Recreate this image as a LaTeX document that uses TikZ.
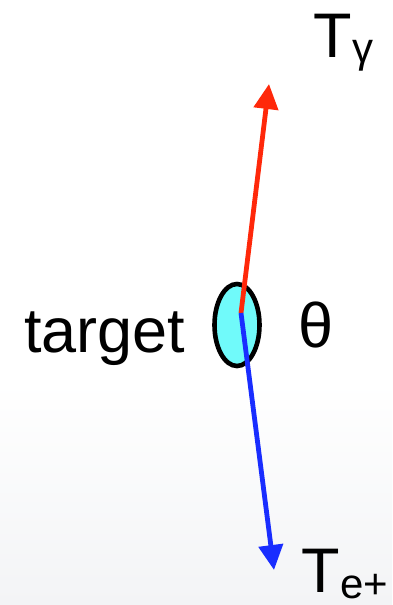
\documentclass[tikz,border=0pt]{standalone}
\usepackage{fontspec}
\setmainfont{Liberation Sans}
\usetikzlibrary{arrows.meta,shapes.geometric}
\definecolor{tcyan}{RGB}{112,250,250}
\definecolor{tred}{RGB}{255,40,10}
\definecolor{tblue}{RGB}{25,45,255}
\definecolor{bgbot}{RGB}{243,244,246}
\begin{document}
\begin{tikzpicture}[x=1pt,y=-1pt,
  lbl/.style={inner sep=0pt,anchor=base west,font=\fontsize{63}{63}\selectfont},
  ray/.style={line width=4.8pt,-{Triangle[length=25pt,width=24pt]}}]
\useasboundingbox (0,0) rectangle (392,605);
\fill[white] (0,0) rectangle (392,400);
\shade[top color=white,bottom color=bgbot] (0,380) rectangle (392,605);
\node[ellipse,draw,line width=4.6pt,fill=tcyan,minimum width=45pt,minimum height=82pt,inner sep=0pt] (tgt) at (237,325) {};
\coordinate (o) at (241,313);
\coordinate (g) at (269,84);
\coordinate (e) at (274,570);
\draw[ray,tred] (o) -- (g);
\draw[ray,tblue] (o) -- (e);
\node[lbl] (tg) at (313.5,57) {T\raisebox{-5pt}{\fontsize{42}{42}\selectfont γ}};
\node[lbl] (te) at (301.5,592.5) {T\raisebox{-5.5pt}{\fontsize{42}{42}\selectfont e+}};
\node[lbl] (tl) at (24,352) {target};
\node[lbl] (th) at (298,347) {θ};
\end{tikzpicture}
\end{document}
